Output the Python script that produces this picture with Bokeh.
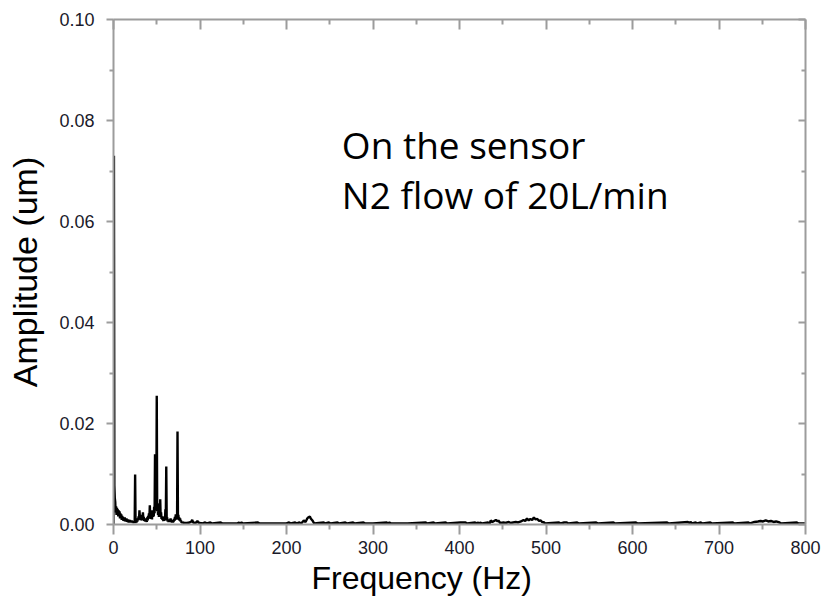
from bokeh.plotting import figure
from bokeh.models import Range1d, FixedTicker, LinearAxis, Label, CustomJSTickFormatter, Title
from bokeh.embed import file_html
from bokeh.resources import INLINE

# ---- data ----
# 0-80 Hz band, half-Hz steps
freq_low = [0, 0.5, 1, 1.5, 2, 2.5, 3, 3.5, 4, 4.5, 5, 5.5, 6, 6.5, 7, 7.5, 8, 8.5, 9, 9.5,
            10, 10.5, 11, 11.5, 12, 12.5, 13, 13.5, 14, 14.5, 15, 15.5, 16, 16.5, 17, 17.5,
            18, 18.5, 19, 19.5, 20, 20.5, 21, 21.5, 22, 22.5, 23, 23.5, 24, 24.5, 25, 25.5,
            26, 26.5, 27, 27.5, 28, 28.5, 29, 29.5, 30, 30.5, 31, 31.5, 32, 32.5, 33, 33.5,
            34, 34.5, 35, 35.5, 36, 36.5, 37, 37.5, 38, 38.5, 39, 39.5, 40, 40.5, 41, 41.5,
            42, 42.5, 43, 43.5, 44, 44.5, 45, 45.5, 46, 46.5, 47, 47.5, 48, 48.5, 49, 49.5,
            50, 50.5, 51, 51.5, 52, 52.5, 53, 53.5, 54, 54.5, 55, 55.5, 56, 56.5, 57, 57.5,
            58, 58.5, 59, 59.5, 60, 60.5, 61, 61.5, 62, 62.5, 63, 63.5, 64, 64.5, 65, 65.5,
            66, 66.5, 67, 67.5, 68, 68.5, 69, 69.5, 70, 70.5, 71, 71.5, 72, 72.5, 73, 73.5,
            74, 74.5, 75, 75.5, 76, 76.5, 77, 77.5, 78, 78.5, 79, 79.5, 80]
amp_low = [0.0, 0.073, 0.0077, 0.0052, 0.0045, 0.0024, 0.0036, 0.0019, 0.0033, 0.0021,
           0.003, 0.0016, 0.0028, 0.0017, 0.0026, 0.0012, 0.0022, 0.0013, 0.002, 0.0009,
           0.0017, 0.001, 0.0015, 0.0007, 0.0013, 0.0008, 0.0014, 0.0006, 0.0011, 0.0007,
           0.0012, 0.0005, 0.0009, 0.0006, 0.001, 0.0004, 0.0008, 0.0005, 0.0009, 0.0004,
           0.0007, 0.0004, 0.0008, 0.0004, 0.0006, 0.0003, 0.0007, 0.0004, 0.0005, 0.0003,
           0.0099, 0.0003, 0.0006, 0.0004, 0.0009, 0.0006, 0.0012, 0.0008, 0.0016, 0.0011,
           0.0028, 0.0014, 0.0018, 0.0009, 0.0013, 0.0008, 0.0019, 0.001, 0.0024, 0.0012,
           0.0015, 0.0007, 0.001, 0.0006, 0.0012, 0.0006, 0.0009, 0.0005, 0.0014, 0.0008,
           0.0017, 0.0011, 0.0022, 0.0013, 0.0038, 0.0014, 0.0021, 0.0011, 0.0016, 0.001,
           0.0028, 0.0015, 0.0024, 0.0016, 0.0035, 0.0022, 0.0139, 0.0028, 0.0045, 0.003,
           0.0255, 0.0026, 0.0042, 0.0019, 0.0031, 0.0015, 0.0026, 0.0018, 0.005, 0.0016,
           0.0024, 0.0011, 0.0016, 0.0009, 0.0013, 0.0007, 0.0011, 0.0007, 0.0016, 0.0009,
           0.003, 0.0019, 0.0115, 0.0008, 0.0014, 0.0006, 0.0009, 0.0005, 0.0008, 0.0005,
           0.001, 0.0006, 0.0012, 0.0006, 0.0008, 0.0004, 0.0007, 0.0004, 0.0009, 0.0005,
           0.0011, 0.0007, 0.0015, 0.0009, 0.002, 0.0011, 0.0017, 0.001, 0.0184, 0.0011,
           0.0019, 0.0009, 0.0014, 0.0007, 0.0012, 0.0006, 0.0008, 0.0004, 0.0005, 0.0003,
           0.0004]

# 80-800 Hz band
freq_high = [82, 85, 88, 90, 91, 92, 95, 97, 98, 100,
             103, 106, 108, 112, 114, 124, 126, 143, 145, 146, 148, 150, 167, 169, 180, 200,
             203, 205, 210, 212, 215, 217, 220, 222, 224, 225, 227, 228, 230, 232, 243, 245,
             249, 251, 259, 261, 268, 270, 277, 279, 289, 291, 300, 316, 317, 319, 321, 340,
             361, 363, 370, 372, 384, 386, 401, 404, 407, 409, 418, 420, 421, 423, 424, 426,
             433, 435, 436, 438, 442, 444, 445, 447, 451, 453, 457, 459, 465, 468, 471, 474,
             476, 478, 480, 482, 484, 486, 488, 490, 492, 494, 496, 497, 499, 515, 517, 521,
             523, 524, 526, 536, 538, 558, 560, 578, 580, 604, 606, 640, 642, 664, 666, 667,
             669, 673, 675, 679, 681, 690, 692, 716, 718, 734, 736, 741, 745, 748, 751, 754,
             757, 760, 763, 766, 770, 772, 790, 792, 800]
amp_high = [0.0003, 0.0003, 0.0004, 0.0006, 0.0009, 0.0004, 0.0003, 0.0007, 0.0004, 0.0003,
            0.0002, 0.0004, 0.0002, 0.0004, 0.0002, 0.0004, 0.0002, 0.0002, 0.0004, 0.0002,
            0.0004, 0.0002, 0.0004, 0.0002, 0.0002, 0.0002,
            0.0004, 0.0002, 0.0004, 0.0002, 0.0004, 0.0002, 0.0008, 0.0005, 0.0012, 0.0014,
            0.0016, 0.0012, 0.0008, 0.0002, 0.0004, 0.0002,
            0.0004, 0.0002, 0.0004, 0.0002, 0.0004, 0.0002, 0.0004, 0.0002, 0.0004, 0.0002,
            0.0002, 0.0004, 0.0002, 0.0004, 0.0002, 0.0002,
            0.0004, 0.0002, 0.0004, 0.0002, 0.0004, 0.0002, 0.0004, 0.0004, 0.0004, 0.0002,
            0.0004, 0.0002, 0.0004, 0.0002, 0.0004, 0.0002,
            0.0004, 0.0002, 0.0008, 0.0005, 0.0009, 0.0006, 0.0008, 0.0003, 0.0004, 0.0003,
            0.0005, 0.0003, 0.0005, 0.0004, 0.0006, 0.0009,
            0.0007, 0.0012, 0.0008, 0.0011, 0.0009, 0.0014, 0.001, 0.0011, 0.0007, 0.0008,
            0.0004, 0.0005, 0.0002, 0.0004, 0.0002, 0.0004,
            0.0004, 0.0004, 0.0002, 0.0004, 0.0002, 0.0004, 0.0002, 0.0004, 0.0002, 0.0004,
            0.0002, 0.0004, 0.0002, 0.0005, 0.0003, 0.0005,
            0.0002, 0.0004, 0.0002, 0.0004, 0.0002, 0.0004, 0.0002, 0.0004, 0.0002, 0.0004,
            0.0002, 0.0005, 0.0006, 0.0007, 0.0006, 0.0008,
            0.0006, 0.0007, 0.0005, 0.0006, 0.0004, 0.0002, 0.0004, 0.0002, 0.0002]

freq = freq_low + freq_high
amp = amp_low + amp_high

x_ticks = [0, 100, 200, 300, 400, 500, 600, 700, 800]
x_minor_ticks = [50, 150, 250, 350, 450, 550, 650, 750]
y_ticks = [0.0, 0.02, 0.04, 0.06, 0.08, 0.10]
y_tick_labels = ["0.00", "0.02", "0.04", "0.06", "0.08", "0.10"]
y_minor_ticks = [0.01, 0.03, 0.05, 0.07, 0.09]

annotation_lines = ["On the sensor", "N2 flow of 20L/min"]
x_label = "Frequency (Hz)"
y_label = "Amplitude (um)"

AXIS_COLOR = "#9c9c9c"
LABEL_FONT = "Liberation Sans"

p = figure(width=831, height=613, output_backend="svg", toolbar_location=None,
           x_range=Range1d(0, 800), y_range=Range1d(0, 0.1),
           min_border_left=113, min_border_right=26, min_border_top=19,
           min_border_bottom=89)
p.outline_line_color = None
p.xgrid.visible = False
p.ygrid.visible = False
p.background_fill_color = "white"
p.border_fill_color = "white"

xt = FixedTicker(ticks=x_ticks, minor_ticks=x_minor_ticks)
yt = FixedTicker(ticks=y_ticks, minor_ticks=y_minor_ticks)

def style(ax):
    ax.axis_line_color = AXIS_COLOR
    ax.axis_line_width = 2
    ax.major_tick_line_color = AXIS_COLOR
    ax.minor_tick_line_color = AXIS_COLOR
    ax.major_tick_line_width = 2
    ax.minor_tick_line_width = 2
    ax.major_label_text_font = LABEL_FONT
    ax.major_label_text_font_size = "18px"
    ax.major_label_text_color = "#1a1a2a"
    ax.axis_label_text_font = LABEL_FONT
    ax.axis_label_text_font_style = "normal"
    ax.axis_label_text_color = "black"

xa = p.xaxis[0]
style(xa)
xa.ticker = xt
xa.major_tick_out = 10
xa.major_tick_in = 0
xa.minor_tick_out = 5
xa.minor_tick_in = 0
xa.major_label_standoff = 6

ya = p.yaxis[0]
style(ya)
ya.ticker = yt
ya.major_label_overrides = {t: s for t, s in zip(y_ticks, y_tick_labels)}
ya.major_tick_out = 7
ya.major_tick_in = 0
ya.minor_tick_out = 4
ya.minor_tick_in = 0
ya.major_label_standoff = 12
ya.axis_label = y_label
ya.axis_label_text_font_size = "34px"
ya.axis_label_standoff = 12

blank = CustomJSTickFormatter(code="return ''")

top = LinearAxis(ticker=xt, formatter=blank)
style(top)
top.major_tick_out = 0
top.major_tick_in = 10
top.minor_tick_out = 0
top.minor_tick_in = 5
top.major_label_standoff = 0
p.add_layout(top, "above")

right = LinearAxis(ticker=yt, formatter=blank)
style(right)
right.major_tick_out = 0
right.major_tick_in = 7
right.minor_tick_out = 0
right.minor_tick_in = 4
right.major_label_standoff = 0
p.add_layout(right, "right")

p.line(freq, amp, line_color="black", line_width=2.4)

for txt, yv in zip(annotation_lines, [0.0753, 0.0653]):
    p.add_layout(Label(x=264, y=yv, text=txt, text_font="Open Sans",
                       text_font_size="37px", text_color="black",
                       text_baseline="alphabetic", text_align="left"))

# x-axis title (sits left of centre in the reference)
p.add_layout(Title(text=x_label, align="left", offset=198, standoff=2,
                   text_font=LABEL_FONT, text_font_size="32px",
                   text_font_style="normal", text_color="black"), "below")

open("out.html", "w").write(file_html(p, INLINE))
